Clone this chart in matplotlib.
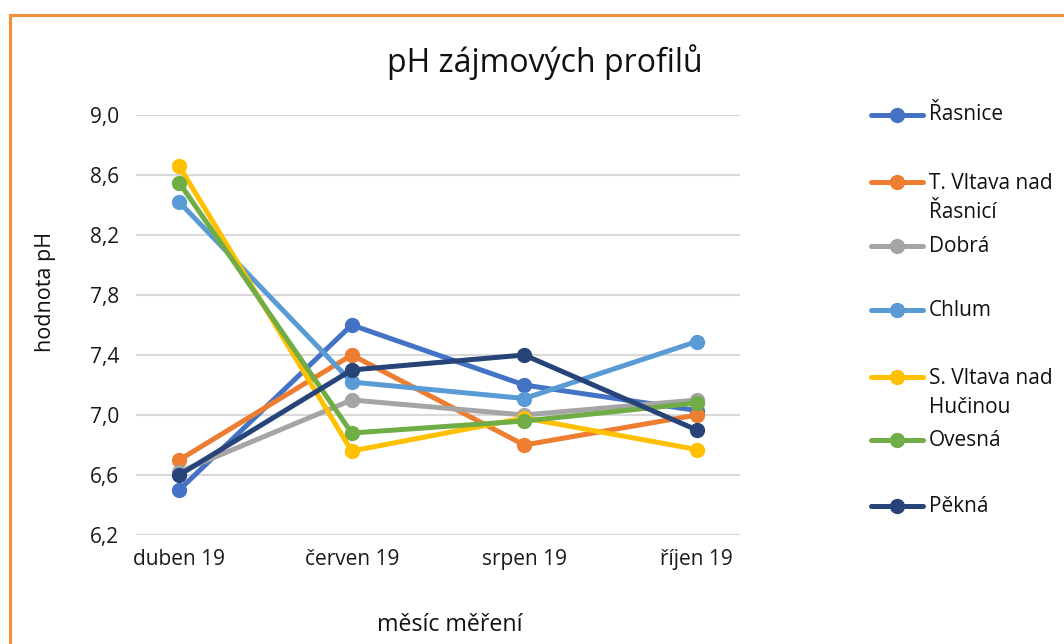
import matplotlib
matplotlib.use('Agg')
import matplotlib.pyplot as plt
from matplotlib.lines import Line2D
from matplotlib.patches import Rectangle
import numpy as np

plt.rcParams['font.family'] = ['Open Sans', 'DejaVu Sans']

# Data
months = ['duben 19', 'červen 19', 'srpen 19', 'říjen 19']
rasnice    = [6.50, 7.60, 7.20, 7.03]
t_vltava   = [6.70, 7.40, 6.80, 7.00]
dobra      = [6.62, 7.10, 7.00, 7.10]
chlum      = [8.42, 7.22, 7.11, 7.49]
s_vltava   = [8.66, 6.76, 6.98, 6.77]
ovesna     = [8.55, 6.88, 6.96, 7.08]
pekna      = [6.60, 7.30, 7.40, 6.90]

series = [
    ('Řasnice', rasnice, '#4472C4'),
    ('T. Vltava nad\nŘasnicí', t_vltava, '#ED7D31'),
    ('Dobrá', dobra, '#A5A5A5'),
    ('Chlum', chlum, '#5B9BD5'),
    ('S. Vltava nad\nHučinou', s_vltava, '#FFC000'),
    ('Ovesná', ovesna, '#70AD47'),
    ('Pěkná', pekna, '#264478'),
]

W, H = 1064, 644
fig = plt.figure(figsize=(W / 100, H / 100), dpi=100)
ax = fig.add_axes([136 / W, 1 - 535 / H, (740 - 136) / W, (535 - 115) / H])

x = np.arange(len(months))
for name, vals, col in series:
    ax.plot(x, vals, color=col, lw=3.6, marker='o', ms=10, zorder=3,
            solid_capstyle='round')

ax.set_xlim(-0.25, 3.25)
ax.set_ylim(6.2, 9.0)
yt = np.arange(6.2, 9.01, 0.4)
ax.set_yticks(yt)
ax.set_yticklabels([f'{v:.1f}'.replace('.', ',') for v in yt])
ax.set_xticks(x)
ax.set_xticklabels(months)
ax.tick_params(length=0, labelsize=15, colors='#1a1a1a')
ax.tick_params(axis='x', pad=10)
ax.tick_params(axis='y', pad=12)
ax.grid(axis='y', color='#D9D9D9', lw=1.5, zorder=0)
for s in ax.spines.values():
    s.set_visible(False)

fig.text(545 / W, 1 - 62 / H, 'pH zájmových profilů', ha='center', va='center',
         fontsize=23, color='#111111')
fig.text(45 / W, 1 - 292 / H, 'hodnota pH', rotation=90, ha='center', va='center',
         fontsize=15.5, color='#111111')
fig.text(450 / W, 1 - 625 / H, 'měsíc měření', ha='center', va='center',
         fontsize=16.7, color='#111111')

# legend
leg_y = [115, 182, 246, 310, 377, 440, 506]
for (name, vals, col), py in zip(series, leg_y):
    yy = 1 - py / H
    fig.add_artist(Line2D([871 / W, 923 / W], [yy, yy], color=col, lw=3.6,
                          solid_capstyle='round'))
    fig.add_artist(Line2D([897 / W], [yy], color=col, marker='o', ms=10, lw=0))
    if '\n' in name:
        fig.text(929 / W, yy + 9 / H, name, ha='left', va='top',
                 fontsize=15, color='#111111', linespacing=1.5)
    else:
        fig.text(929 / W, yy, name, ha='left', va='center',
                 fontsize=15, color='#111111')

# orange frame
fig.add_artist(Rectangle((9.5 / W, -0.1), 1.2, 1 - 15 / H + 0.1,
                         fill=False, ec='#F4903C', lw=2.2,
                         transform=fig.transFigure))

fig.savefig('out.png', dpi=100, facecolor='white')
